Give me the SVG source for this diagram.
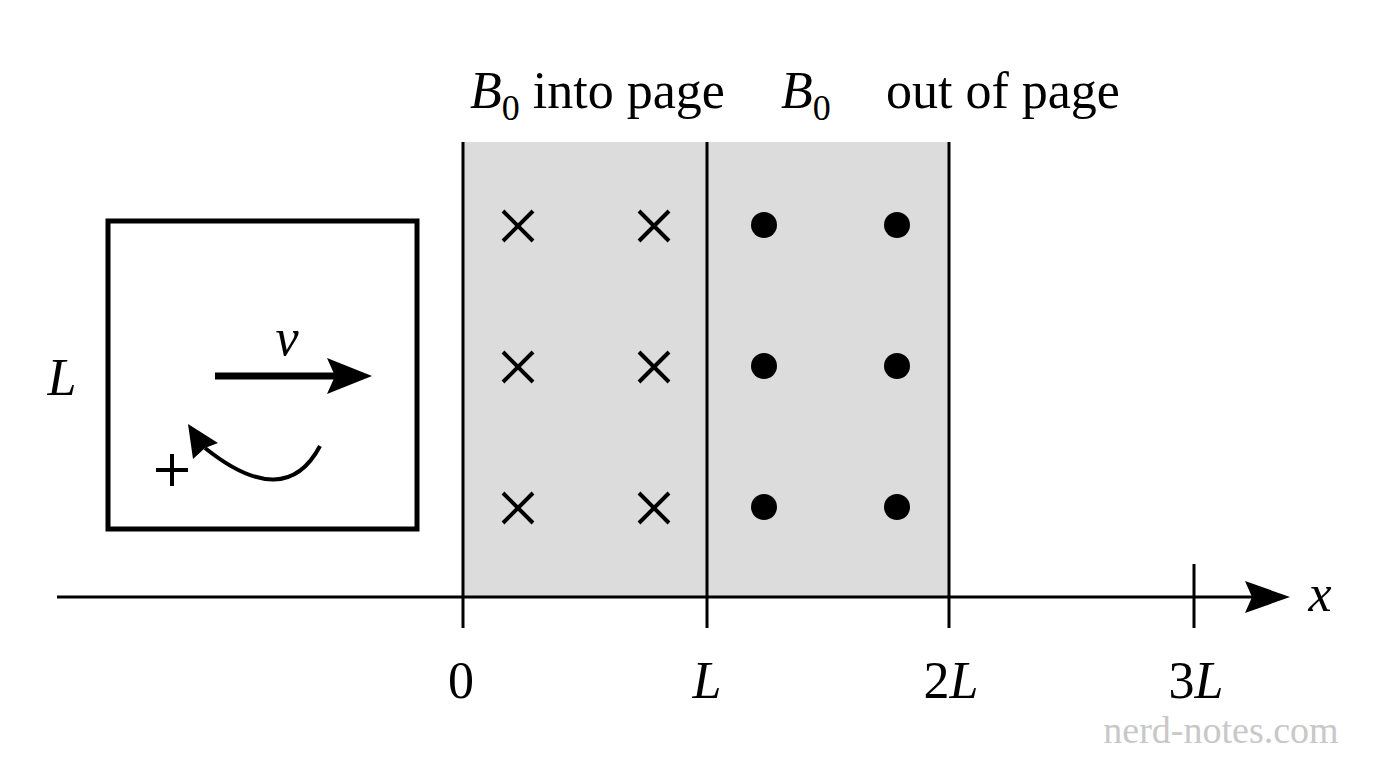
<svg xmlns="http://www.w3.org/2000/svg" width="1376" height="768" viewBox="0 0 1376 768">
<style>
text{font-family:"Liberation Serif","DejaVu Serif",serif;fill:#000}
.lb{font-size:52px}
.it{font-style:italic}
.ln{stroke:#000;stroke-width:3;fill:none}
.x{stroke:#000;stroke-width:4}
</style>
<rect width="1376" height="768" fill="#fff"/>
<g id="field">
<rect x="463" y="142" width="486" height="455" fill="#dcdcdc"/>
<line class="ln" x1="463" y1="142" x2="463" y2="628"/>
<line class="ln" x1="707" y1="142" x2="707" y2="628"/>
<line class="ln" x1="949" y1="142" x2="949" y2="628"/>
</g>
<g id="crosses">
<path class="x" d="M503,211l30,30M533,211l-30,30M639,211l30,30M669,211l-30,30M503,352l30,30M533,352l-30,30M639,352l30,30M669,352l-30,30M503,493l30,30M533,493l-30,30M639,493l30,30M669,493l-30,30"/>
</g>
<g id="dots">
<circle cx="764" cy="225" r="13"/><circle cx="897" cy="225" r="13"/>
<circle cx="764" cy="366" r="13"/><circle cx="897" cy="366" r="13"/>
<circle cx="764" cy="507" r="13"/><circle cx="897" cy="507" r="13"/>
</g>
<g id="loop">
<rect x="108" y="221" width="309" height="308" fill="none" stroke="#000" stroke-width="5"/>
</g>
<g id="connectors">
<line x1="57" y1="597" x2="1252" y2="597" stroke="#000" stroke-width="3"/>
<path d="M1290,597 L1245,581 L1252,597 L1245,613 Z"/>
<line class="ln" x1="1194" y1="564" x2="1194" y2="628"/>
<line x1="215" y1="376" x2="340" y2="376" stroke="#000" stroke-width="7"/>
<path d="M372,376 L327,358 L335,376 L327,394 Z"/>
<path d="M320,446 Q285,512 205,448" fill="none" stroke="#000" stroke-width="4"/>
<path d="M188,424 L218,443 L205,448 L193,459 Z"/>
<path d="M156,470h32M172,454v32" stroke="#000" stroke-width="4"/>
</g>
<g id="labels">
<text x="470" y="108" class="lb"><tspan class="it">B</tspan><tspan font-size="36" dy="12">0</tspan><tspan dy="-12"> into page</tspan></text>
<text x="781" y="108" class="lb"><tspan class="it">B</tspan><tspan font-size="36" dy="12">0</tspan></text>
<text x="886" y="108" class="lb">out of page</text>
<text x="62" y="395" class="lb it" text-anchor="middle">L</text>
<text x="287" y="355" class="lb it" text-anchor="middle">v</text>
<text x="461" y="698" class="lb" text-anchor="middle">0</text>
<text x="707" y="698" class="lb it" text-anchor="middle">L</text>
<text x="951" y="698" class="lb" text-anchor="middle">2<tspan class="it">L</tspan></text>
<text x="1196" y="698" class="lb" text-anchor="middle">3<tspan class="it">L</tspan></text>
<text x="1320" y="611" class="lb it" text-anchor="middle">x</text>
<text x="1221" y="743" font-size="38" style="fill:#c8c8c8" text-anchor="middle">nerd-notes.com</text>
</g>
</svg>
